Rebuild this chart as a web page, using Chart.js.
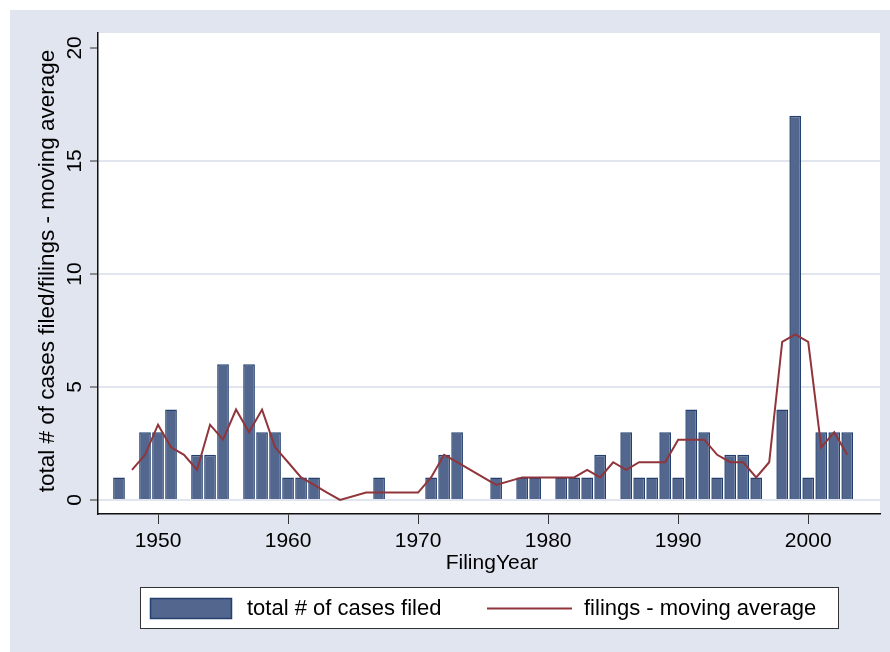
<!DOCTYPE html>
<html>
<head>
<meta charset="utf-8">
<script src="https://cdn.jsdelivr.net/npm/chart.js@4.4.1/dist/chart.umd.min.js"></script>
<style>
  html, body { margin: 0; padding: 0; background: #ffffff; }
  #wrap { width: 890px; height: 652px; }
</style>
</head>
<body>
<div id="wrap"><canvas id="c" width="890" height="652"></canvas></div>
<script>
// ---- data ----
const barYears = [1947,1949,1950,1951,1953,1954,1955,1957,1958,1959,1960,1961,1962,1967,1971,1972,1973,1976,1978,1979,1981,1982,1983,1984,1986,1987,1988,1989,1990,1991,1992,1993,1994,1995,1996,1998,1999,2000,2001,2002,2003];
const casesFiled = [1,3,3,4,2,2,6,6,3,3,1,1,1,1,1,2,3,1,1,1,1,1,1,2,3,1,1,3,1,4,3,1,2,2,1,4,17,1,3,3,3];
const maYears = [1948,1949,1950,1951,1952,1953,1954,1955,1956,1957,1958,1959,1960,1961,1962,1963,1964,1966,1967,1970,1971,1972,1973,1976,1978,1979,1980,1981,1982,1983,1984,1985,1986,1987,1988,1989,1990,1991,1992,1993,1994,1995,1996,1997,1998,1999,2000,2001,2002,2003];
const movingAvg = [1.33,2.0,3.33,2.33,2.0,1.33,3.33,2.67,4.0,3.0,4.0,2.33,1.67,1.0,0.67,0.33,0,0.33,0.33,0.33,1.0,2.0,1.67,0.67,1.0,1.0,1.0,1.0,1.0,1.33,1.0,1.67,1.33,1.67,1.67,1.67,2.67,2.67,2.67,2.0,1.67,1.67,1.0,1.67,7.0,7.33,7.0,2.33,3.0,2.0];
const xTicks = [1950,1960,1970,1980,1990,2000];
const yTicks = [0,5,10,15,20];
const barLabel = 'total # of cases filed';
const lineLabel = 'filings - moving average';
const xTitle = 'FilingYear';
const yTitle = 'total # of cases filed/filings - moving average';

// ---- styles ----
const FONT = '"Liberation Sans", Arial, Helvetica, sans-serif';
const BG = '#e1e5f0';
const BAR_FILL = '#52668e';
const BAR_EDGE = '#24406f';
const LINE_COL = '#90353b';

const barData = barYears.map((y, i) => ({ x: y, y: casesFiled[i] }));
const lineData = maYears.map((y, i) => ({ x: y, y: movingAvg[i] }));

const decor = {
  id: 'decor',
  beforeDraw(chart) {
    const ctx = chart.ctx, a = chart.chartArea;
    ctx.save();
    ctx.fillStyle = '#ffffff';
    ctx.fillRect(0, 0, chart.width, chart.height);
    ctx.fillStyle = BG;
    ctx.fillRect(10, 10, chart.width - 10, chart.height - 10);
    ctx.fillStyle = '#ffffff';
    ctx.fillRect(a.left, a.top, a.right - a.left, a.bottom - a.top);
    ctx.restore();
  },
  afterDraw(chart) {
    const ctx = chart.ctx, a = chart.chartArea;
    const xs = chart.scales.x, ys = chart.scales.y;
    ctx.save();
    ctx.fillStyle = '#000';
    // y tick labels (rotated)
    ctx.font = '21px ' + FONT;
    ctx.textAlign = 'center';
    ctx.textBaseline = 'middle';
    yTicks.forEach(v => {
      const py = ys.getPixelForValue(v);
      ctx.save();
      ctx.translate(75, py);
      ctx.rotate(-Math.PI / 2);
      ctx.fillText(String(v), 0, 0);
      ctx.restore();
    });
    // x tick labels
    xTicks.forEach(v => {
      ctx.fillText(String(v), xs.getPixelForValue(v), 541);
    });
    // axis titles
    ctx.font = '21px ' + FONT;
    ctx.fillText(xTitle, 492, 563);
    ctx.save();
    ctx.font = '22.5px ' + FONT;
    ctx.translate(48, 271);
    ctx.rotate(-Math.PI / 2);
    ctx.fillText(yTitle, 0, 0);
    ctx.restore();
    // legend
    ctx.fillStyle = '#ffffff';
    ctx.fillRect(140, 587, 698, 41);
    ctx.strokeStyle = '#333';
    ctx.lineWidth = 1;
    ctx.strokeRect(140.5, 587.5, 698, 41);
    ctx.fillStyle = BAR_FILL;
    ctx.fillRect(150, 598, 82, 21);
    ctx.strokeStyle = BAR_EDGE;
    ctx.lineWidth = 1.5;
    ctx.strokeRect(150.5, 598.5, 81, 20);
    ctx.strokeStyle = LINE_COL;
    ctx.lineWidth = 2;
    ctx.beginPath();
    ctx.moveTo(487, 608.5);
    ctx.lineTo(572, 608.5);
    ctx.stroke();
    ctx.fillStyle = '#000';
    ctx.font = '22px ' + FONT;
    ctx.textAlign = 'left';
    ctx.fillText(barLabel, 247, 609);
    ctx.fillText(lineLabel, 584, 609);
    ctx.restore();
  }
};

new Chart(document.getElementById('c'), {
  type: 'bar',
  data: {
    datasets: [
      {
        type: 'line',
        label: lineLabel,
        data: lineData,
        borderColor: LINE_COL,
        borderWidth: 2,
        pointRadius: 0,
        tension: 0,
        fill: false,
        order: 0
      },
      {
        type: 'bar',
        label: barLabel,
        data: barData,
        backgroundColor: BAR_FILL,
        borderColor: BAR_EDGE,
        borderWidth: 1.5,
        categoryPercentage: 1.0,
        barPercentage: 0.9,
        order: 1
      }
    ]
  },
  options: {
    responsive: false,
    animation: false,
    devicePixelRatio: 1,
    layout: { padding: { left: 90, top: 33, right: 10, bottom: 128 } },
    plugins: { legend: { display: false }, tooltip: { enabled: false }, title: { display: false } },
    scales: {
      x: {
        type: 'linear',
        offset: false,
        min: 1945.385,
        max: 2005.52,
        afterBuildTicks: s => { s.ticks = xTicks.map(v => ({ value: v })); },
        ticks: { display: false },
        grid: { display: true, offset: false, drawOnChartArea: false, drawTicks: true, tickLength: 10, tickColor: '#333', tickWidth: 1 },
        border: { display: true, color: '#111', width: 1.5 }
      },
      y: {
        type: 'linear',
        min: -0.62,
        max: 20.66,
        afterBuildTicks: s => { s.ticks = yTicks.map(v => ({ value: v })); },
        ticks: { display: false },
        grid: {
          display: true,
          offset: false,
          drawOnChartArea: true,
          drawTicks: true,
          tickLength: 8,
          color: ctx => (ctx.tick && ctx.tick.value === 20) ? 'rgba(0,0,0,0)' : BG,
          lineWidth: 2,
          tickColor: '#333',
          tickWidth: 1
        },
        border: { display: true, color: '#111', width: 1.5 }
      }
    }
  },
  plugins: [decor]
});
</script>
</body>
</html>
